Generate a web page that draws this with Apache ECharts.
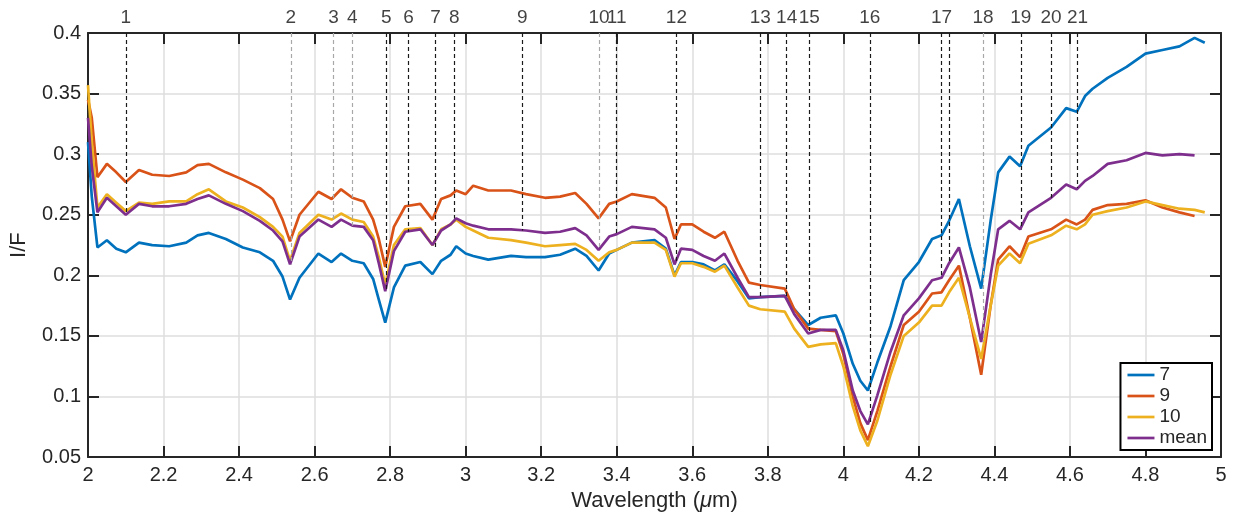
<!DOCTYPE html>
<html lang="en">
<head>
<meta charset="UTF-8">
<title>I/F spectra</title>
<script src="https://cdn.jsdelivr.net/npm/echarts@6/dist/echarts.min.js"></script>
<style>
  html, body { margin: 0; padding: 0; background: #fff; }
  #chart { width: 1234px; height: 517px; }
</style>
</head>
<body>
<div id="chart"></div>
<script>
// wavelength grid (um), shared by all spectra
var wavelength = [2.00, 2.01, 2.025, 2.05, 2.075, 2.10, 2.135, 2.17, 2.215, 2.26,
  2.29, 2.32, 2.365, 2.41, 2.455, 2.49, 2.515, 2.535, 2.56, 2.61,
  2.645, 2.67, 2.70, 2.73, 2.755, 2.77, 2.787, 2.81, 2.84, 2.88,
  2.912, 2.935, 2.96, 2.975, 3.00, 3.02, 3.06, 3.12, 3.16, 3.21,
  3.25, 3.29, 3.32, 3.352, 3.38, 3.40, 3.44, 3.50, 3.53, 3.553,
  3.57, 3.60, 3.63, 3.66, 3.685, 3.72, 3.75, 3.78, 3.845, 3.87,
  3.907, 3.94, 3.98, 4.00, 4.025, 4.045, 4.065, 4.09, 4.125, 4.16,
  4.20, 4.235, 4.26, 4.28, 4.306, 4.335, 4.365, 4.39, 4.41, 4.44,
  4.468, 4.49, 4.55, 4.59, 4.618, 4.64, 4.66, 4.70, 4.75, 4.80,
  4.845, 4.89, 4.93, 4.957];

var spec7 = [0.310, 0.265, 0.223, 0.229, 0.222, 0.219, 0.227, 0.225, 0.224, 0.227,
  0.233, 0.235, 0.230, 0.223, 0.219, 0.212, 0.199, 0.180, 0.198, 0.218,
  0.211, 0.218, 0.212, 0.210, 0.197, 0.180, 0.161, 0.190, 0.208, 0.211,
  0.201, 0.212, 0.217, 0.224, 0.218, 0.216, 0.213, 0.216, 0.215, 0.215,
  0.217, 0.222, 0.216, 0.204, 0.218, 0.221, 0.227, 0.229, 0.222, 0.200,
  0.211, 0.211, 0.209, 0.204, 0.209, 0.195, 0.181, 0.182, 0.183, 0.172,
  0.159, 0.165, 0.167, 0.152, 0.127, 0.113, 0.105, 0.128, 0.158, 0.196,
  0.211, 0.230, 0.233, 0.245, 0.263, 0.224, 0.189, 0.245, 0.285, 0.298,
  0.290, 0.307, 0.322, 0.338, 0.335, 0.348, 0.354, 0.363, 0.372, 0.383,
  0.386, 0.389, 0.396, 0.392];

var spec9 = [0.345, 0.330, 0.281, 0.292, 0.285, 0.277, 0.287, 0.283, 0.282, 0.285,
  0.291, 0.292, 0.285, 0.279, 0.272, 0.263, 0.246, 0.228, 0.250, 0.269,
  0.263, 0.271, 0.264, 0.261, 0.246, 0.230, 0.207, 0.240, 0.257, 0.259,
  0.246, 0.263, 0.266, 0.270, 0.267, 0.274, 0.270, 0.270, 0.267, 0.264,
  0.265, 0.268, 0.259, 0.247, 0.259, 0.261, 0.267, 0.264, 0.256, 0.230,
  0.242, 0.242, 0.236, 0.231, 0.236, 0.212, 0.194, 0.192, 0.189, 0.172,
  0.156, 0.155, 0.154, 0.135, 0.100, 0.078, 0.064, 0.088, 0.125, 0.159,
  0.170, 0.185, 0.186, 0.196, 0.208, 0.165, 0.118, 0.175, 0.213, 0.224,
  0.215, 0.232, 0.238, 0.246, 0.242, 0.246, 0.254, 0.258, 0.259, 0.262,
  0.256, 0.252, 0.249, null];

var spec10 = [0.357, 0.310, 0.256, 0.267, 0.260, 0.253, 0.260, 0.259, 0.261, 0.261,
  0.267, 0.271, 0.261, 0.256, 0.248, 0.240, 0.232, 0.212, 0.235, 0.250,
  0.246, 0.251, 0.246, 0.244, 0.232, 0.215, 0.192, 0.225, 0.238, 0.239,
  0.225, 0.238, 0.242, 0.246, 0.240, 0.237, 0.231, 0.229, 0.227, 0.224,
  0.225, 0.226, 0.221, 0.212, 0.219, 0.221, 0.227, 0.227, 0.221, 0.199,
  0.210, 0.210, 0.207, 0.203, 0.208, 0.190, 0.175, 0.172, 0.170, 0.156,
  0.141, 0.143, 0.144, 0.125, 0.092, 0.072, 0.059, 0.080, 0.118, 0.150,
  0.161, 0.175, 0.175, 0.186, 0.198, 0.165, 0.131, 0.175, 0.208, 0.218,
  0.210, 0.226, 0.233, 0.241, 0.238, 0.242, 0.250, 0.253, 0.256, 0.261,
  0.258, 0.255, 0.254, 0.252];

var specMean = [0.330, 0.290, 0.252, 0.264, 0.257, 0.250, 0.259, 0.257, 0.257, 0.259,
  0.263, 0.266, 0.259, 0.253, 0.245, 0.237, 0.228, 0.209, 0.232, 0.246,
  0.240, 0.246, 0.241, 0.240, 0.229, 0.210, 0.187, 0.220, 0.236, 0.238,
  0.225, 0.237, 0.242, 0.247, 0.243, 0.241, 0.238, 0.238, 0.237, 0.235,
  0.236, 0.239, 0.233, 0.221, 0.232, 0.234, 0.240, 0.238, 0.231, 0.209,
  0.222, 0.221, 0.216, 0.212, 0.218, 0.198, 0.182, 0.182, 0.183, 0.168,
  0.152, 0.155, 0.155, 0.138, 0.105, 0.088, 0.077, 0.101, 0.137, 0.167,
  0.181, 0.196, 0.198, 0.210, 0.223, 0.190, 0.145, 0.200, 0.238, 0.245,
  0.238, 0.252, 0.264, 0.275, 0.271, 0.278, 0.282, 0.292, 0.295, 0.301,
  0.299, 0.300, 0.299, null];

// absorption features: position, label, lower end of the dashed marker
var featurePos = [2.10, 2.537, 2.65, 2.70, 2.79, 2.849, 2.92, 2.97, 3.15, 3.353, 3.40,
  3.558, 3.78, 3.85, 3.91, 4.07, 4.26, 4.28, 4.37, 4.47, 4.55, 4.62];
var featureLabel = ['1', '2', '3', '4', '5', '6', '7', '8', '9', '10', '11',
  '12', '13', '14', '15', '16', '17', '', '18', '19', '20', '21'];
var featureEnd = [0.252, 0.209, 0.246, 0.241, 0.187, 0.236, 0.223, 0.247, 0.237, 0.221, 0.234,
  0.211, 0.182, 0.183, 0.152, 0.077, 0.198, 0.210, 0.145, 0.238, 0.264, 0.272];
var featureFaint = [2, 3, 4, 10, 19];

var seriesNames = ['7', '9', '10', 'mean'];
var colors = ['#0072BD', '#D95319', '#EDB120', '#7E2F8E'];

var font = 'Liberation Sans, Arial, Helvetica, sans-serif';
var ink = '#262626';

function pairs(ys) {
  var out = [];
  for (var i = 0; i < wavelength.length; i++) {
    out.push([wavelength[i], ys[i]]);
  }
  return out;
}

var markerLines = [];
var markerLabels = [];
for (var i = 0; i < featurePos.length; i++) {
  var faint = featureFaint.indexOf(i + 1) >= 0;
  markerLines.push({
    coords: [[featurePos[i], 0.4], [featurePos[i], featureEnd[i]]],
    lineStyle: { color: faint ? '#a8a8a8' : '#1a1a1a' }
  });
  if (featureLabel[i] !== '') {
    markerLabels.push([featurePos[i], 0.4, featureLabel[i]]);
  }
}

var chart = echarts.init(document.getElementById('chart'));

var spectra = [spec7, spec9, spec10, specMean];
var lineSeries = spectra.map(function (ys, k) {
  return {
    name: seriesNames[k],
    type: 'line',
    data: pairs(ys),
    showSymbol: false,
    symbol: 'none',
    connectNulls: false,
    lineStyle: { width: 2.7, color: colors[k] },
    itemStyle: { color: colors[k] },
    z: 3
  };
});

var option = {
  backgroundColor: '#fff',
  animation: false,
  grid: { left: 88, right: 13, top: 33, bottom: 58 },
  legend: {
    data: seriesNames,
    orient: 'vertical',
    right: 22,
    bottom: 67,
    icon: 'rect',
    itemWidth: 27,
    itemHeight: 2.7,
    itemGap: 1,
    padding: [2, 5, 2, 7],
    borderColor: '#000',
    borderWidth: 2,
    backgroundColor: '#fff',
    textStyle: { fontFamily: font, fontSize: 19, color: ink, lineHeight: 20 },
    z: 10
  },
  xAxis: [{
    type: 'value',
    min: 2, max: 5, interval: 0.2,
    name: 'Wavelength ({mu|μ}m)',
    nameLocation: 'middle',
    nameGap: 28,
    nameTextStyle: {
      fontFamily: font, fontSize: 22, color: ink,
      rich: { mu: { fontFamily: font, fontSize: 22, fontStyle: 'italic', color: ink } }
    },
    axisLine: { lineStyle: { color: ink, width: 2 } },
    axisTick: { inside: true, length: 11, lineStyle: { color: ink, width: 2 } },
    axisLabel: { fontFamily: font, fontSize: 20, color: ink, margin: 8 },
    splitLine: { lineStyle: { color: '#dedede', width: 1.5 } }
  }, {
    type: 'value',
    position: 'top',
    min: 2, max: 5, interval: 0.2,
    axisLine: { lineStyle: { color: ink, width: 2 } },
    axisTick: { inside: true, length: 11, lineStyle: { color: ink, width: 2 } },
    axisLabel: { show: false },
    splitLine: { show: false }
  }],
  yAxis: [{
    type: 'value',
    min: 0.05, max: 0.4, interval: 0.05,
    name: 'I/F',
    nameLocation: 'middle',
    nameGap: 58,
    nameTextStyle: { fontFamily: font, fontSize: 22, color: ink },
    axisLine: { show: true, lineStyle: { color: ink, width: 2 } },
    axisTick: { show: true, inside: true, length: 11, lineStyle: { color: ink, width: 2 } },
    axisLabel: { fontFamily: font, fontSize: 20, color: ink, margin: 7 },
    splitLine: { lineStyle: { color: '#dedede', width: 1.5 } }
  }, {
    type: 'value',
    position: 'right',
    min: 0.05, max: 0.4, interval: 0.05,
    axisLine: { show: true, lineStyle: { color: ink, width: 2 } },
    axisTick: { show: true, inside: true, length: 11, lineStyle: { color: ink, width: 2 } },
    axisLabel: { show: false },
    splitLine: { show: false }
  }],
  series: lineSeries.concat([{
    name: 'features',
    type: 'lines',
    coordinateSystem: 'cartesian2d',
    xAxisIndex: 0,
    yAxisIndex: 0,
    polyline: false,
    silent: true,
    lineStyle: { width: 1.2, type: [4, 3], opacity: 1 },
    data: markerLines,
    z: 4
  }, {
    name: 'featureLabels',
    type: 'scatter',
    xAxisIndex: 0,
    yAxisIndex: 0,
    symbolSize: 1,
    clip: false,
    silent: true,
    itemStyle: { color: 'rgba(0,0,0,0)' },
    data: markerLabels,
    label: {
      show: true,
      position: 'top',
      distance: 5,
      fontFamily: font,
      fontSize: 19,
      color: '#111',
      formatter: function (p) { return p.data[2]; }
    },
    z: 5
  }])
};

chart.setOption(option);
</script>
</body>
</html>
